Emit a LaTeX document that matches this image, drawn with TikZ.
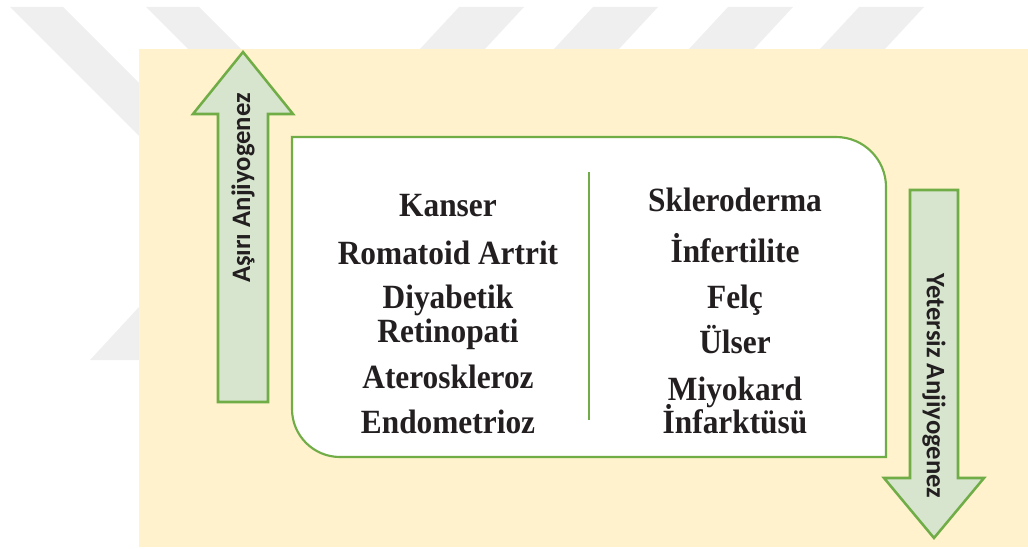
\documentclass[tikz,border=0pt]{standalone}
\usepackage{fontspec}
\usepackage{graphicx}
\setmainfont{Liberation Serif}
\newfontfamily\arrowfont{Carlito}

\definecolor{panelyellow}{HTML}{FFF2CC}
\definecolor{edgegreen}{HTML}{70AD47}
\definecolor{arrowgreen}{HTML}{D7E5CF}
\definecolor{textdark}{HTML}{231F20}
\definecolor{markgray}{HTML}{EFEFEF}

\begin{document}
\begin{tikzpicture}[x=0.75pt,y=-0.75pt,
  stripe/.style={fill=markgray, draw=none},
  arrowshape/.style={fill=arrowgreen, draw=edgegreen, line width=1.9pt, line join=miter},
  listbox/.style={fill=white, draw=edgegreen, line width=1.6pt},
  item/.style={font=\bfseries\fontsize{24}{28}\selectfont, text=textdark, anchor=base, inner sep=0pt},
  arrowlabel/.style={font=\arrowfont\bfseries\fontsize{20}{24}\selectfont, text=textdark, inner sep=0pt}]
\useasboundingbox (0,0) rectangle (1028,549);

% faint watermark
\foreach \xa in {10,146}
  \fill[stripe] (\xa,7) -- (\xa+53,7) -- (\xa+253,207) -- (\xa+200,207) -- cycle;
\foreach \xa in {459,593,728,859}
  \fill[stripe] (\xa,7) -- (\xa+65,7) -- (\xa+26,49) -- (\xa-39,49) -- cycle;
\fill[stripe] (90,360) -- (139,307) -- (139,360) -- cycle;

% background panel
\fill[panelyellow] (139,49) rectangle (1028,547);

% list box
\draw[listbox] (292,137) -- (836,137) arc[start angle=-90, end angle=0, radius=50]
  -- (886,457) -- (340,457) arc[start angle=90, end angle=180, radius=48] -- cycle;
\coordinate (divtop) at (589,172);
\coordinate (divbot) at (589,420);
\draw[edgegreen, line width=1.6pt] (divtop) -- (divbot);

% arrows
\draw[arrowshape] (218,402) -- (218,114) -- (193,114) -- (243,52) -- (293,114)
  -- (268,114) -- (268,402) -- cycle;
\node[arrowlabel, rotate=90] (excess) at (243,188) {Aşırı Anjiyogenez};

\draw[arrowshape] (910,190) -- (958,190) -- (958,478) -- (984,478) -- (934,538)
  -- (884,478) -- (910,478) -- cycle;
\node[arrowlabel, rotate=-90] (deficient) at (934,386) {Yetersiz Anjiyogenez};

% diseases
\foreach \yb/\txt [count=\i] in {217/Kanser,264/Romatoid Artrit,308/Diyabetik,
  342/Retinopati,388/Ateroskleroz,433/Endometrioz}
  \node[item] (left\i) at (448,\yb) {\scalebox{0.98}[1.06]{\txt}};

\foreach \yb/\txt [count=\i] in {212/Skleroderma,262/İnfertilite,308/Felç,
  353/Ülser,400/Miyokard,433/İnfarktüsü}
  \node[item] (right\i) at (735,\yb) {\scalebox{0.98}[1.06]{\txt}};
\end{tikzpicture}
\end{document}
